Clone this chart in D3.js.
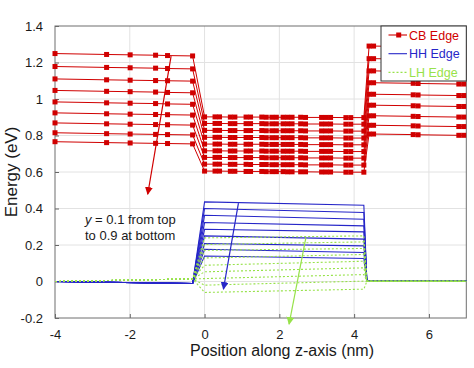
<!DOCTYPE html>
<html>
<head>
<meta charset="utf-8">
<script src="https://cdn.jsdelivr.net/npm/d3@7"></script>
<style>
    body { margin: 0; background: #fff; }
    svg { display: block; font-family: "Liberation Sans", Arial, sans-serif; }
</style>
</head>
<body>
<div id="chart"></div>
<script>
// tick labels
const xTicks = [-4, -2, 0, 2, 4, 6];
const yTicks = [-0.2, 0, 0.2, 0.4, 0.6, 0.8, 1, 1.2, 1.4];
const yTickLabels = ["-0.2", "0", "0.2", "0.4", "0.6", "0.8", "1", "1.2", "1.4"];

// CB edge, y = 0.1 (top) .. 0.9 (bottom)
const cbZ = [-4, -2.62, -1.99, -1.31, -0.99, -0.32,
    0, 0.28, 0.40, 0.69, 0.81, 1.11, 1.23, 1.53, 1.65, 1.80, 1.92, 2.10, 2.22, 2.34, 2.57, 2.70, 3.13, 3.25, 3.37, 3.78, 3.91, 4.26,
    4.40, 4.52, 5.58, 5.71, 6.80, 6.93];
const cbEdge = [
    [1.249, 1.244, 1.242, 1.240, 1.238, 1.236,
     0.902, 0.902, 0.902, 0.901, 0.901, 0.901, 0.901, 0.901, 0.900, 0.900, 0.900, 0.900, 0.900, 0.900, 0.900, 0.899, 0.899, 0.899, 0.899, 0.898, 0.898, 0.898,
     1.290, 1.290, 1.287, 1.286, 1.283, 1.283],
    [1.178, 1.173, 1.171, 1.169, 1.167, 1.165,
     0.866, 0.866, 0.866, 0.865, 0.865, 0.865, 0.865, 0.865, 0.864, 0.864, 0.864, 0.864, 0.864, 0.864, 0.864, 0.863, 0.863, 0.863, 0.863, 0.862, 0.862, 0.862,
     1.221, 1.221, 1.218, 1.217, 1.214, 1.214],
    [1.110, 1.105, 1.103, 1.101, 1.100, 1.098,
     0.828, 0.828, 0.828, 0.827, 0.827, 0.827, 0.827, 0.827, 0.826, 0.826, 0.826, 0.826, 0.826, 0.826, 0.826, 0.825, 0.825, 0.825, 0.825, 0.824, 0.824, 0.824,
     1.154, 1.154, 1.151, 1.150, 1.147, 1.147],
    [1.047, 1.042, 1.040, 1.038, 1.036, 1.034,
     0.790, 0.790, 0.790, 0.789, 0.789, 0.789, 0.789, 0.789, 0.788, 0.788, 0.788, 0.788, 0.788, 0.788, 0.788, 0.787, 0.787, 0.787, 0.787, 0.786, 0.786, 0.786,
     1.089, 1.089, 1.086, 1.085, 1.082, 1.082],
    [0.984, 0.979, 0.977, 0.975, 0.973, 0.971,
     0.753, 0.753, 0.753, 0.752, 0.752, 0.752, 0.752, 0.752, 0.751, 0.751, 0.751, 0.751, 0.751, 0.751, 0.751, 0.750, 0.750, 0.750, 0.750, 0.749, 0.749, 0.749,
     1.026, 1.026, 1.023, 1.022, 1.019, 1.019],
    [0.924, 0.919, 0.917, 0.915, 0.914, 0.912,
     0.716, 0.716, 0.716, 0.715, 0.715, 0.715, 0.715, 0.715, 0.714, 0.714, 0.714, 0.714, 0.714, 0.714, 0.714, 0.713, 0.713, 0.713, 0.713, 0.712, 0.712, 0.712,
     0.966, 0.966, 0.963, 0.962, 0.959, 0.959],
    [0.869, 0.864, 0.862, 0.860, 0.859, 0.857,
     0.680, 0.680, 0.680, 0.679, 0.679, 0.679, 0.679, 0.679, 0.678, 0.678, 0.678, 0.678, 0.678, 0.678, 0.678, 0.677, 0.677, 0.677, 0.677, 0.676, 0.676, 0.676,
     0.908, 0.908, 0.905, 0.904, 0.901, 0.901],
    [0.815, 0.810, 0.808, 0.806, 0.805, 0.803,
     0.643, 0.643, 0.643, 0.642, 0.642, 0.642, 0.641, 0.641, 0.641, 0.640, 0.640, 0.640, 0.640, 0.640, 0.640, 0.639, 0.639, 0.639, 0.639, 0.638, 0.638, 0.638,
     0.856, 0.856, 0.853, 0.852, 0.849, 0.849],
    [0.766, 0.761, 0.759, 0.757, 0.756, 0.754,
     0.605, 0.605, 0.605, 0.604, 0.604, 0.603, 0.603, 0.603, 0.602, 0.602, 0.602, 0.602, 0.601, 0.601, 0.601, 0.601, 0.600, 0.600, 0.600, 0.599, 0.599, 0.599,
     0.808, 0.808, 0.805, 0.804, 0.801, 0.801]
];

// HH and LH edges
const vbZ = [-4, -0.32, 0, 4.26, 4.34, 7];
const hhEdge = [
    [0, -0.011, 0.436, 0.418, 0.002, 0.002],
    [0, -0.011, 0.400, 0.378, 0.002, 0.002],
    [0, -0.011, 0.363, 0.341, 0.002, 0.002],
    [0, -0.011, 0.323, 0.305, 0.002, 0.002],
    [0, -0.011, 0.286, 0.272, 0.002, 0.002],
    [0, -0.011, 0.250, 0.232, 0.002, 0.002],
    [0, -0.011, 0.208, 0.195, 0.002, 0.002],
    [0, -0.011, 0.177, 0.159, 0.002, 0.002],
    [0, -0.011, 0.140, 0.126, 0.002, 0.002]
];
const lhEdge = [
    [0, 0.014, 0.239, 0.250, 0.001, 0.001],
    [0, 0.014, 0.203, 0.217, 0.001, 0.001],
    [0, 0.014, 0.171, 0.181, 0.001, 0.001],
    [0, 0.014, 0.129, 0.148, 0.001, 0.001],
    [0, 0.014, 0.089, 0.111, 0.001, 0.001],
    [0, 0.014, 0.053, 0.075, 0.001, 0.001],
    [0, 0.014, 0.016, 0.038, 0.001, 0.001],
    [0, 0.014, -0.020, 0.002, 0.001, 0.001],
    [0, 0.014, -0.060, -0.042, 0.001, 0.001]
];

// annotation arrows [x1, y1, x2, y2] in data units
const arrowNames = ["cb", "hh", "lh"];
const arrowCoords = [
    [-0.895, 1.235, -1.52, 0.478],
    [0.906, 0.429, 0.505, -0.042],
    [2.71, 0.241, 2.26, -0.234]
];

const legendLabels = ["CB Edge", "HH Edge", "LH Edge"];

const colors = {cb: "#d00000", hh: "#2626c8", lh: "#97e24a"};

const width = 474, height = 368;
const margin = {top: 26, right: 7.7, bottom: 50, left: 55};

let svg = d3.select("#chart").append("svg")
    .attr("width", width)
    .attr("height", height);

let x = d3.scaleLinear().domain([-4, 7]).range([margin.left, width - margin.right]);
let y = d3.scaleLinear().domain([-0.2, 1.4]).range([height - margin.bottom, margin.top]);

// grid
svg.append("g").selectAll("line")
    .data(xTicks.slice(1))
    .enter().append("line")
    .attr("x1", d => x(d)).attr("x2", d => x(d))
    .attr("y1", y(-0.2)).attr("y2", y(1.4))
    .attr("stroke", "#e2e2e2");

svg.append("g").selectAll("line")
    .data(yTicks.slice(1, -1))
    .enter().append("line")
    .attr("x1", x(-4)).attr("x2", x(7))
    .attr("y1", d => y(d)).attr("y2", d => y(d))
    .attr("stroke", "#e2e2e2");

// axes with inward ticks
let xAxis = svg.append("g")
    .attr("transform", "translate(0," + y(-0.2) + ")")
    .call(d3.axisBottom(x).tickValues(xTicks).tickSize(-4).tickPadding(12).tickFormat(d => d));
let yAxis = svg.append("g")
    .attr("transform", "translate(" + x(-4) + ",0)")
    .call(d3.axisLeft(y).tickValues(yTicks).tickSize(-4).tickPadding(12)
        .tickFormat((d, i) => yTickLabels[i]));

[xAxis, yAxis].forEach(a => {
    a.select(".domain").remove();
    a.selectAll(".tick line").attr("stroke", "#666");
    a.selectAll(".tick text").attr("font-size", 13).attr("fill", "#1a1a1a")
        .attr("font-family", "Liberation Sans, Arial, sans-serif");
});

// frame
svg.append("rect")
    .attr("x", x(-4)).attr("y", y(1.4))
    .attr("width", x(7) - x(-4)).attr("height", y(-0.2) - y(1.4))
    .attr("fill", "none")
    .attr("stroke", "#6e6e6e");

let line = d3.line()
    .x(d => x(d[0]))
    .y(d => y(d[1]));

// CB lines + square markers
cbEdge.forEach(vals => {
    let pts = cbZ.map((z, i) => [z, vals[i]]);
    svg.append("path")
        .attr("d", line(pts))
        .attr("fill", "none")
        .attr("stroke", colors.cb)
        .attr("stroke-width", 1);
    svg.append("g").selectAll("rect")
        .data(pts)
        .enter().append("rect")
        .attr("x", d => x(d[0]) - 2.5)
        .attr("y", d => y(d[1]) - 2.5)
        .attr("width", 5).attr("height", 5)
        .attr("fill", colors.cb);
});

hhEdge.forEach(vals => {
    svg.append("path")
        .attr("d", line(vbZ.map((z, i) => [z, vals[i]])))
        .attr("fill", "none")
        .attr("stroke", colors.hh)
        .attr("stroke-width", 1.1);
});

lhEdge.forEach(vals => {
    svg.append("path")
        .attr("d", line(vbZ.map((z, i) => [z, vals[i]])))
        .attr("fill", "none")
        .attr("stroke", colors.lh)
        .attr("stroke-width", 1.1)
        .attr("stroke-dasharray", "2,2");
});

// arrows
let defs = svg.append("defs");
arrowNames.forEach(name => {
    defs.append("marker")
        .attr("id", "head-" + name)
        .attr("viewBox", "0 0 10 10")
        .attr("refX", 9).attr("refY", 5)
        .attr("markerWidth", 8).attr("markerHeight", 8)
        .attr("markerUnits", "userSpaceOnUse")
        .attr("orient", "auto")
        .append("path")
        .attr("d", "M0,0L10,5L0,10z")
        .attr("fill", colors[name]);
});
arrowCoords.forEach((c, i) => {
    svg.append("line")
        .attr("x1", x(c[0])).attr("y1", y(c[1]))
        .attr("x2", x(c[2])).attr("y2", y(c[3]))
        .attr("stroke", colors[arrowNames[i]])
        .attr("stroke-width", 1.2)
        .attr("marker-end", "url(#head-" + arrowNames[i] + ")");
});

// annotation text
let note = svg.append("text")
    .attr("font-size", 13)
    .attr("fill", "#1a1a1a");
note.append("tspan").attr("x", 85).attr("y", 224)
    .attr("font-style", "italic").text("y");
note.append("tspan").text(" = 0.1 from top");
note.append("tspan").attr("x", 85).attr("y", 240).text("to 0.9 at bottom");

// axis titles
svg.append("text")
    .attr("transform", "translate(17," + ((y(1.4) + y(-0.2)) / 2) + ") rotate(-90)")
    .attr("text-anchor", "middle")
    .attr("font-size", 17)
    .attr("fill", "#1a1a1a")
    .text("Energy (eV)");

svg.append("text")
    .attr("x", 282).attr("y", 356)
    .attr("text-anchor", "middle")
    .attr("font-size", 16)
    .attr("fill", "#1a1a1a")
    .text("Position along z-axis (nm)");

// legend
let legend = svg.append("g").attr("transform", "translate(381,26)");
legend.append("rect")
    .attr("width", 85.3).attr("height", 55)
    .attr("fill", "#fff")
    .attr("stroke", "#333");

legendLabels.forEach((label, i) => {
    let key = arrowNames[i];
    let ly = 9 + i * 18.7;
    let l = legend.append("line")
        .attr("x1", 7.5).attr("x2", 26)
        .attr("y1", ly).attr("y2", ly)
        .attr("stroke", colors[key])
        .attr("stroke-width", 1.1);
    if (key === "lh") l.attr("stroke-dasharray", "2,2");
    if (key === "cb") {
        legend.append("rect")
            .attr("x", 15.2).attr("y", ly - 2.5)
            .attr("width", 5).attr("height", 5)
            .attr("fill", colors.cb);
    }
    legend.append("text")
        .attr("x", 28).attr("y", ly + 4.5)
        .attr("font-size", 12.5)
        .attr("fill", colors[key])
        .text(label);
});
</script>
</body>
</html>
